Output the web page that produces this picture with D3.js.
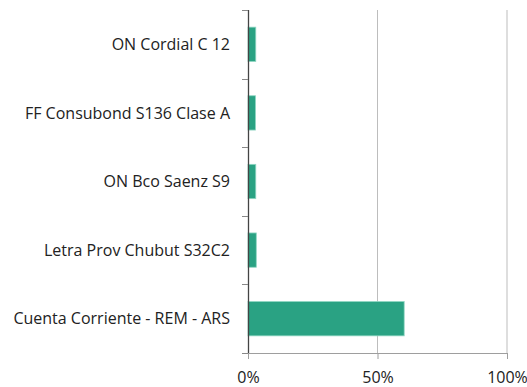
<!DOCTYPE html>
<html>
<head>
<meta charset="utf-8">
<script src="https://cdn.jsdelivr.net/npm/d3@7"></script>
<style>
  body { margin: 0; background: #fff; }
  svg text { font-family: "Open Sans", "Noto Sans", sans-serif; font-size: 16px; fill: #222; }
</style>
</head>
<body>
<svg id="chart"></svg>
<script>
const categories = ["ON Cordial C 12", "FF Consubond S136 Clase A", "ON Bco Saenz S9", "Letra Prov Chubut S32C2", "Cuenta Corriente - REM - ARS"];
const values = [3.0, 2.9, 3.0, 3.2, 60.3];
const xTicks = [0, 50, 100];

const width = 527, height = 387;
const margin = { top: 10, right: 20, bottom: 34, left: 248 };
const w = width - margin.left - margin.right,
      h = height - margin.top - margin.bottom;

const svg = d3.select("#chart").attr("width", width).attr("height", height);
const g = svg.append("g").attr("transform", "translate(" + margin.left + "," + margin.top + ")");

const x = d3.scaleLinear().domain([0, 100]).range([0, w]);
const y = d3.scaleBand().domain(categories).range([0, h]).paddingInner(0.5).paddingOuter(0.25);

// gridlines
g.selectAll(".grid")
    .data(xTicks.slice(1))
    .enter()
    .append("line")
    .attr("x1", d => x(d)).attr("x2", d => x(d))
    .attr("y1", 0).attr("y2", h)
    .style("stroke", "#bdbdbd")
    .style("stroke-width", 1);

// bars
g.selectAll(".bar")
    .data(values)
    .enter()
    .append("rect")
    .attr("x", x(0))
    .attr("y", (d, i) => y(categories[i]))
    .attr("width", d => x(d))
    .attr("height", y.bandwidth())
    .style("fill", "#2aa283")
    .style("stroke", "#8fd6c2")
    .style("stroke-width", 0.8);

// x axis
g.append("g")
    .attr("transform", "translate(0," + h + ")")
    .call(d3.axisBottom(x).tickValues(xTicks).tickFormat(d => d + "%").tickSize(6).tickPadding(13))
    .call(a => a.select(".domain").attr("stroke", "#9e9e9e"))
    .call(a => a.selectAll(".tick line").attr("stroke", "#9e9e9e"))
    .call(a => a.selectAll("text").style("font-size", "16px").style("fill", "#222").style("font-family", "'Open Sans', 'Noto Sans', sans-serif"));

// y axis: ticks at band boundaries
const yAxis = g.append("g");
yAxis.append("line")
    .attr("x1", 0.5).attr("x2", 0.5).attr("y1", 0).attr("y2", h)
    .style("stroke", "#444").style("stroke-width", 1.3);
const bounds = d3.range(categories.length + 1).map(i => i * h / categories.length);
yAxis.selectAll(".ytick")
    .data(bounds)
    .enter()
    .append("line")
    .attr("x1", -6).attr("x2", 0)
    .attr("y1", d => Math.round(d) + 0.5).attr("y2", d => Math.round(d) + 0.5)
    .style("stroke", "#888");

yAxis.selectAll(".ylabel")
    .data(categories)
    .enter()
    .append("text")
    .attr("x", -18)
    .attr("y", d => y(d) + y.bandwidth() / 2)
    .attr("dy", "0.35em")
    .attr("text-anchor", "end")
    .text(d => d);
</script>
</body>
</html>
